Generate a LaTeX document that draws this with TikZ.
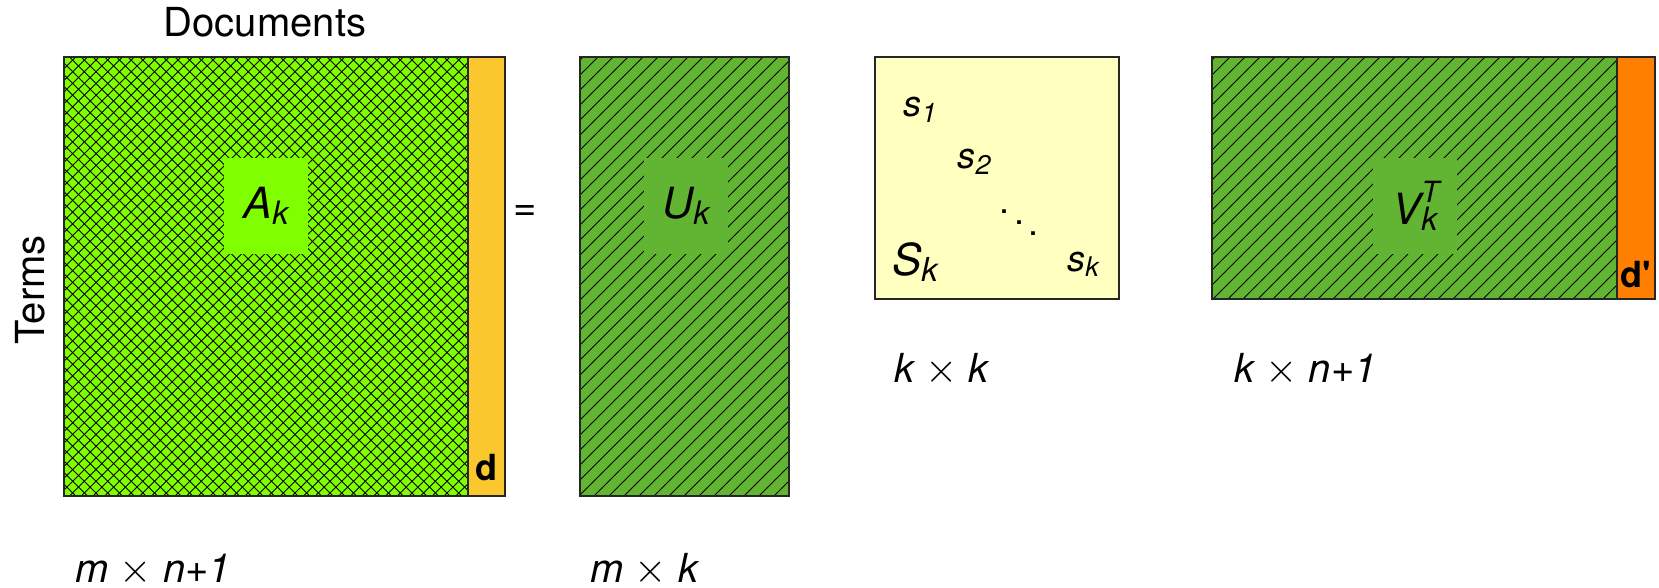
\documentclass[tikz,border=0pt]{standalone}
\usepackage{fontspec}
\setmainfont{TeX Gyre Heros}
\usepackage{xcolor}
\usepackage{tikz}
\usetikzlibrary{positioning}

\definecolor{limegreen}{RGB}{128,255,0}
\definecolor{leafgreen}{RGB}{98,181,50}
\definecolor{paleyellow}{RGB}{255,255,192}
\definecolor{amber}{RGB}{251,199,47}
\definecolor{deeporange}{RGB}{255,128,0}

\newcommand{\lsub}[1]{\raisebox{-0.15em}{\scalebox{0.75}{#1}}}
\newcommand{\lsup}[1]{\raisebox{0.5em}{\scalebox{0.68}{#1}}}

\begin{document}
\begin{tikzpicture}[
  x=0.5pt, y=-0.5pt,
  mat/.style={draw=black!85, line width=0.8pt},
  hatch/.style={draw=black, line width=0.45pt},
  lblbox/.style={inner sep=0pt, minimum width=42pt, minimum height=48pt, font=\fontsize{21.5}{24}\selectfont\itshape},
  dimlbl/.style={anchor=base west, inner sep=0pt, font=\fontsize{20}{24}\selectfont\itshape},
  diag/.style={font=\fontsize{18}{20}\selectfont\itshape},
  strip/.style={font=\fontsize{18}{20}\selectfont\bfseries}
]
  \useasboundingbox (0,0) rectangle (1659,588);

  % A_k with the new document column
  \fill[limegreen] (64,57) rectangle (468,496);
  \begin{scope}
    \clip (64,57) rectangle (468,496);
    \foreach \c in {121,132.7,...,965} \draw[hatch] (\c-600,600) -- (\c,0);
    \foreach \c in {-432,-420.3,...,412} \draw[hatch] (\c,0) -- (\c+600,600);
  \end{scope}
  \draw[mat] (64,57) rectangle (468,496);
  \draw[mat, fill=amber] (468,57) rectangle (505,496);
  \node[lblbox, fill=limegreen] (Ak) at (266,206) {A\lsub{k}};
  \node[strip] (d) at (486,468) {d};
  \node[font=\fontsize{20}{24}\selectfont, anchor=base] (docs) at (265,37) {Documents};
  \node[font=\fontsize{20}{24}\selectfont, rotate=90] (terms) at (30,290) {Terms};
  \node[font=\fontsize{20}{24}\selectfont] (eq) at (525,213) {=};

  % U_k
  \fill[leafgreen] (580,57) rectangle (789,496);
  \begin{scope}
    \clip (580,57) rectangle (789,496);
    \foreach \c in {640,655,...,1285} \draw[hatch] (\c-600,600) -- (\c,0);
  \end{scope}
  \draw[mat] (580,57) rectangle (789,496);
  \node[lblbox, fill=leafgreen] (Uk) at (686,206) {U\lsub{k}};

  % S_k
  \draw[mat, fill=paleyellow] (875,57) rectangle (1119,299);
  \node[diag] (s1) at (920,110) {s\lsub{1}};
  \node[diag] (s2) at (974,162) {s\lsub{2}};
  \node (dots) at (1019,212) {\scalebox{1.8}{$\ddots$}};
  \node[diag] (sk) at (1083,264) {s\lsub{k}};
  \node[font=\fontsize{22}{24}\selectfont\itshape] (Sk) at (915,262) {S\lsub{k}};

  % V_k^T with the new column
  \fill[leafgreen] (1212,57) rectangle (1617,299);
  \begin{scope}
    \clip (1212,57) rectangle (1617,299);
    \foreach \c in {1272,1287,...,1916} \draw[hatch] (\c-600,600) -- (\c,0);
  \end{scope}
  \draw[mat] (1212,57) rectangle (1617,299);
  \draw[mat, fill=deeporange] (1617,57) rectangle (1655,299);
  \node[lblbox, fill=leafgreen] (Vk) at (1415,206) {V\rlap{\lsup{T}}\lsub{k}};
  \node[strip] (dp) at (1636,275) {d\textquotesingle};

  % Dimensions
  \node[dimlbl] (dimA) at (75,582) {m {\upshape$\times$} n+1};
  \node[dimlbl] (dimU) at (590,582) {m {\upshape$\times$} k};
  \node[dimlbl] (dimS) at (894,382) {k {\upshape$\times$} k};
  \node[dimlbl] (dimV) at (1234,382) {k {\upshape$\times$} n+1};
\end{tikzpicture}
\end{document}
